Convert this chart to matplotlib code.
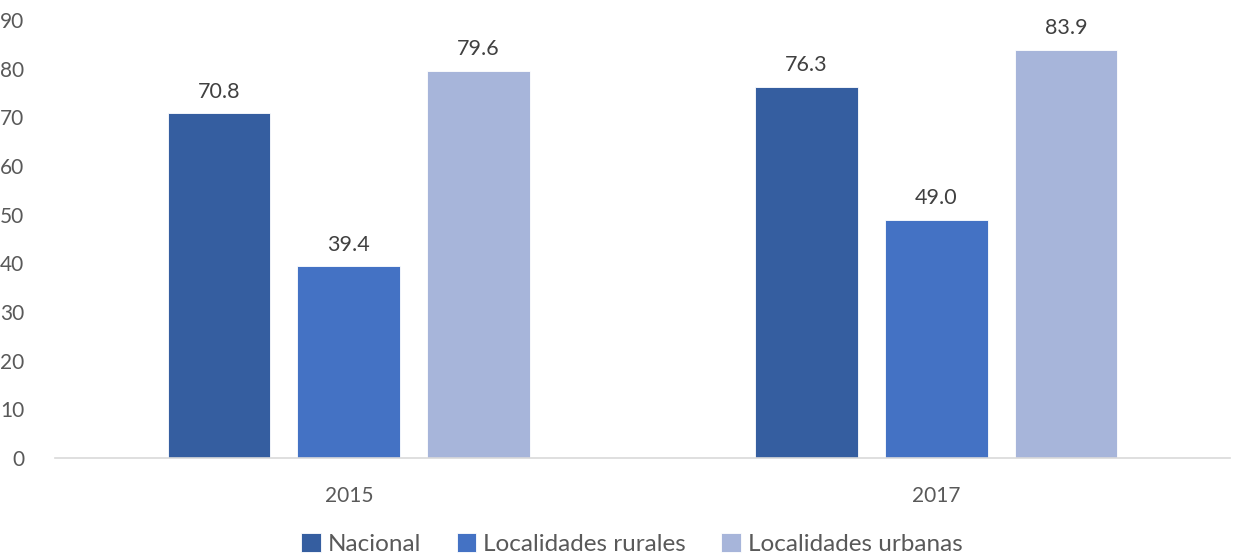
import matplotlib
matplotlib.use("Agg")
import matplotlib.pyplot as plt
import numpy as np

years = ["2015", "2017"]
series_names = ["Nacional", "Localidades rurales", "Localidades urbanas"]
nacional = [70.8, 76.3]
rurales = [39.4, 49.0]
urbanas = [79.6, 83.9]
colors = ["#355ea0", "#4472c4", "#a7b5da"]

plt.rcParams['font.family'] = ['Lato', 'DejaVu Sans']

fig = plt.figure(figsize=(12.33, 5.57), dpi=100)
ax = fig.add_axes([55/1233, (557-458)/557, (1230-55)/1233, (458-20)/557])

x = np.arange(len(years))
w = 0.175
step = 0.221
for i, (vals, name, c) in enumerate(zip([nacional, rurales, urbanas], series_names, colors)):
    pos = x + (i - 1) * step
    bars = ax.bar(pos, vals, width=w, color=c, label=name, edgecolor='white', linewidth=0.6)
    for p, v in zip(pos, vals):
        ax.text(p, v + 2.3, f"{v:.1f}", ha='center', va='bottom', fontsize=15.5, color='#404040')

ax.set_xlim(-0.5, 1.5)
ax.set_ylim(0, 90)
ax.set_yticks(range(0, 91, 10))
ax.set_xticks(x)
ax.set_xticklabels(years)
ax.tick_params(axis='y', length=0, labelsize=15, labelcolor='#595959', pad=22)
ax.tick_params(axis='x', length=0, labelsize=15, labelcolor='#595959', pad=20)
for s in ['top', 'right', 'left']:
    ax.spines[s].set_visible(False)
ax.spines['bottom'].set_color('#d9d9d9')
ax.spines['bottom'].set_linewidth(1.2)
for lbl in ax.get_yticklabels():
    lbl.set_horizontalalignment('right')

leg = fig.legend(loc='center', bbox_to_anchor=(632/1233, 1 - 544/557), ncol=3, frameon=False,
                 fontsize=17.5, handlelength=0.8, handleheight=0.8, handletextpad=0.3, columnspacing=1.45,
                 labelcolor='#595959')
fig.savefig("out.png", dpi=100)
